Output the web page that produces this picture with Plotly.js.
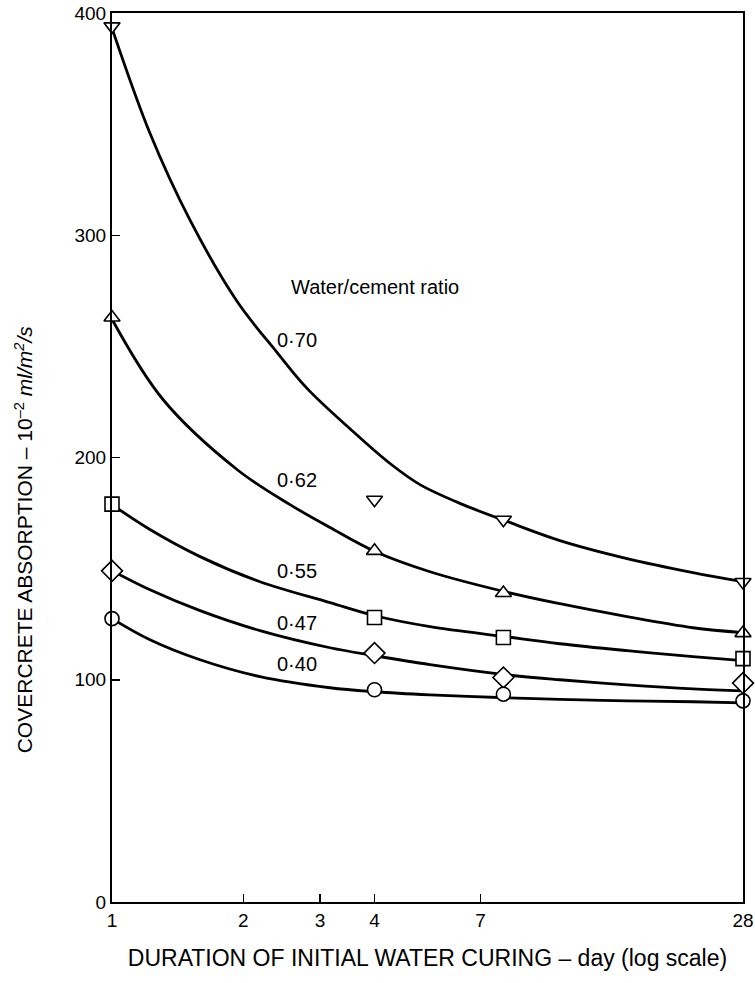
<!DOCTYPE html>
<html>
<head>
<meta charset="utf-8">
<script src="https://cdn.plot.ly/plotly-3.0.1.min.js"></script>
<style>html,body{margin:0;padding:0;background:#fff;}#chart{width:755px;height:983px;}</style>
</head>
<body>
<div id="chart"></div>
<script>
// ---- data ----
const ratios = ['0·70', '0·62', '0·55', '0·47', '0·40'];
const symbols = ['triangle-down', 'triangle-up', 'square', 'diamond', 'circle'];

// measured points (days of initial water curing); the third group sits at ~7.9 on the printed log scale
const pointDays = [1, 4, 7.9, 28];
const pts070 = [394, 181, 172, 144];
const pts062 = [263, 158, 139, 121];
const pts055 = [179, 128, 119, 109.5];
const pts047 = [149, 112, 101, 98.5];
const pts040 = [127.5, 95.5, 93.5, 90.5];

// fitted curves
const curve070Days = [1, 1.222, 1.51, 1.935, 2.39, 2.801, 3.571, 4.341, 5.086, 6.383, 8.055, 10.65, 15.18, 21.5, 28];
const curve070 = [393.2, 345.9, 306.8, 270.3, 247.3, 231.1, 211.7, 197.3, 187.8, 178.8, 171.2, 162.6, 154.5, 148.2, 144.1];
const curve062Days = [1, 1.309, 1.935, 2.56, 3.162, 4.01, 5.362, 7.967, 10.65, 15.18, 21.5, 28];
const curve062 = [262.2, 226.1, 194.6, 178.8, 168.5, 157.7, 148.6, 139.6, 134.2, 128.4, 123.4, 121.2];
const curve055Days = [1, 1.222, 1.592, 2.185, 3.162, 4.01, 5.362, 7.967, 10.65, 15.18, 21.5, 28];
const curve055 = [178.8, 167.6, 155.4, 144.1, 134.7, 128.8, 123.9, 119.4, 116.2, 113.1, 110.4, 108.6];
const curve047Days = [1, 1.222, 1.592, 2.185, 3.162, 4.01, 5.362, 7.967, 10.65, 15.18, 21.5, 28];
const curve047 = [149.1, 140.5, 131.1, 122.1, 114.4, 110.8, 106.8, 102.3, 100.0, 97.7, 95.9, 95.0];
const curve040Days = [1, 1.222, 1.592, 2.185, 3.162, 4.01, 5.362, 7.967, 10.65, 15.18, 21.5, 28];
const curve040 = [127.5, 118.0, 109.0, 101.4, 96.4, 94.6, 93.2, 91.9, 91.2, 90.5, 90.1, 89.6];

const xTickVals = [1, 2, 3, 4, 7, 28];
const xTickText = ['1', '2', '3', '4', '7', '28'];
const yTickVals = [0, 100, 200, 300, 400];
const yTickText = ['0', '100', '200', '300', '400'];

// value (y) at which each ratio label is written
const labelY = [253, 190, 149, 125.5, 107];

// ---- build traces ----
const FONT = 'Liberation Sans, Arial, Helvetica, sans-serif';
const curveSets = [
  [curve070Days, curve070], [curve062Days, curve062], [curve055Days, curve055],
  [curve047Days, curve047], [curve040Days, curve040]
];
const pointSets = [pts070, pts062, pts055, pts047, pts040];

const traces = [];
curveSets.forEach(function (c) {
  traces.push({
    type: 'scatter', mode: 'lines', x: c[0], y: c[1],
    line: {color: '#000', width: 2.8, shape: 'spline', smoothing: 1},
    hoverinfo: 'skip', showlegend: false, cliponaxis: false
  });
});
pointSets.forEach(function (p, i) {
  traces.push({
    type: 'scatter', mode: 'markers', x: pointDays, y: p, name: ratios[i],
    marker: {symbol: symbols[i], size: i === 3 ? 16 : 14, color: '#fff', line: {color: '#000', width: 1.6}},
    showlegend: false, cliponaxis: false
  });
});

const annotations = [
  {xref: 'paper', yref: 'y', x: 0.417, y: 276.6, text: 'Water/cement ratio', showarrow: false,
   font: {family: FONT, size: 20, color: '#000'}, xanchor: 'center', yanchor: 'middle'},
  {xref: 'paper', yref: 'paper', x: -0.1395, y: 0.165, textangle: -90, xanchor: 'center', yanchor: 'bottom',
   text: 'COVERCRETE ABSORPTION – 10<sup>–2</sup> <i>ml/m<sup>2</sup>/s</i>', showarrow: false,
   font: {family: FONT, size: 21, color: '#000'}}
];
ratios.forEach(function (r, i) {
  annotations.push({xref: 'paper', yref: 'y', x: 0.293, y: labelY[i], text: r, showarrow: false,
    font: {family: FONT, size: 20, color: '#000'}, xanchor: 'center', yanchor: 'middle'});
});

const layout = {
  width: 755, height: 983,
  margin: {l: 112, r: 12, t: 13, b: 81},
  paper_bgcolor: '#fff', plot_bgcolor: '#fff',
  showlegend: false,
  font: {family: FONT, color: '#000'},
  xaxis: {
    type: 'log', range: [0, Math.log10(28)],
    tickvals: xTickVals, ticktext: xTickText,
    ticks: 'inside', ticklen: 8, tickwidth: 1.5, tickcolor: '#000',
    showline: true, mirror: true, linecolor: '#000', linewidth: 2,
    showgrid: false, zeroline: false,
    tickfont: {family: FONT, size: 19, color: '#000'},
    title: {text: 'DURATION OF INITIAL WATER CURING – day (log scale)', standoff: 20,
            font: {family: FONT, size: 23, color: '#000'}}
  },
  yaxis: {
    range: [0, 400],
    tickvals: yTickVals, ticktext: yTickText,
    ticks: 'inside', ticklen: 8, tickwidth: 1.5, tickcolor: '#000',
    showline: true, mirror: true, linecolor: '#000', linewidth: 2,
    showgrid: false, zeroline: false,
    tickfont: {family: FONT, size: 19, color: '#000'},
    title: {text: ''}
  },
  annotations: annotations
};

Plotly.newPlot('chart', traces, layout, {displayModeBar: false, staticPlot: true});
</script>
</body>
</html>
